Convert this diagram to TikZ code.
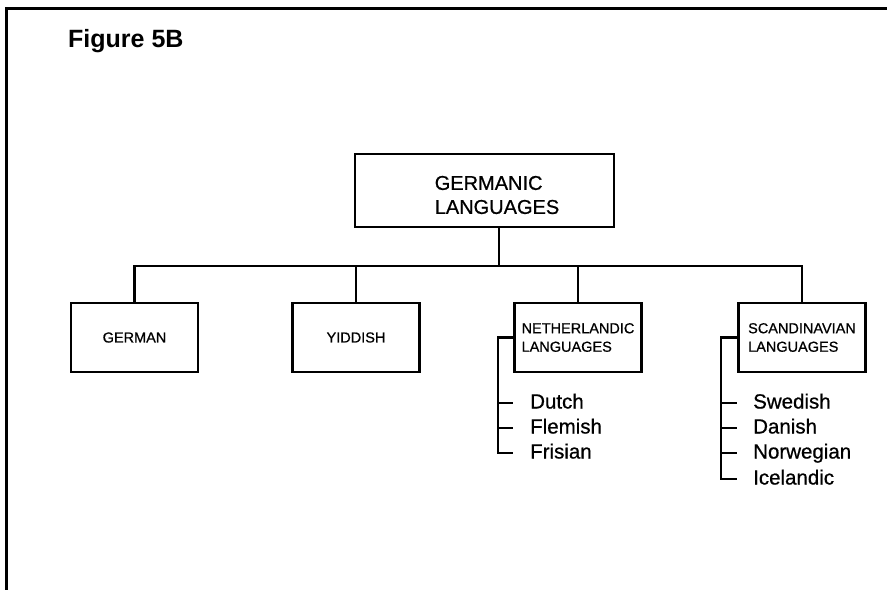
\documentclass[tikz,border=0pt]{standalone}
\usepackage{fontspec}
\setmainfont{Liberation Sans}
% a slightly heavier upright for the chart lettering
\newfontfamily\chartfont[FakeBold=0.7]{Liberation Sans}
\begin{document}
\begin{tikzpicture}[x=1pt,y=-1pt,
  frame/.style={line width=3pt,line join=miter},
  box/.style={draw,line width=2.6pt,rectangle,inner sep=0pt},
  childbox/.style={box,minimum width=127pt,minimum height=69pt,
    font=\chartfont\fontsize{14.5}{18.5}\selectfont,align=left},
  link/.style={line width=2.2pt},
  item/.style={anchor=west,inner sep=0pt,text height=15pt,text depth=4pt,
    font=\chartfont\fontsize{20.5}{24}\selectfont}]
  \useasboundingbox (0,0) rectangle (887,590);

  % page frame (top and left edges)
  \draw[frame] (887,8) -- (6,8) -- (6,590);

  % heading
  \node[anchor=base west,inner sep=0pt,font=\fontsize{25}{30}\selectfont\bfseries]
    (title) at (68,47) {Figure 5B};

  % root
  \node[box,minimum width=259pt,minimum height=73pt] (germ) at (484.5,190.5) {};
  \node[align=left,inner sep=0pt,font=\chartfont\fontsize{20}{24}\selectfont]
    (germtxt) at (497,195) {GERMANIC\\LANGUAGES};

  % branches
  \node[childbox] (german) at (134.5,337.5) {GERMAN};
  \node[childbox] (yid)    at (356,337.5)   {YIDDISH};
  \node[childbox] (neth)   at (578,337.5)   {NETHERLANDIC\\LANGUAGES};
  \node[childbox] (scan)   at (802,337.5)   {SCANDINAVIAN\\LANGUAGES};

  % tree connectors
  \coordinate (bus) at (499,266);
  \draw[link] (germ.south -| bus) -- (bus);
  \draw[link] (german.north) -- (german.north |- bus) -- (scan.north |- bus) -- (scan.north);
  \draw[link] (yid.north) -- (yid.north |- bus);
  \draw[link] (neth.north) -- (neth.north |- bus);

  % Netherlandic languages
  \node[item] (dutch)   at (530,403) {Dutch};
  \node[item] (flemish) at (530,428) {Flemish};
  \node[item] (frisian) at (530,453) {Frisian};
  \draw[link] (neth.west) -- ++(-15,0) coordinate (nbar)
    |- ([xshift=-17pt]frisian.west);
  \draw[link] (nbar |- dutch.west) -- ([xshift=-17pt]dutch.west);
  \draw[link] (nbar |- flemish.west) -- ([xshift=-17pt]flemish.west);

  % Scandinavian languages
  \node[item] (swedish)   at (753,403) {Swedish};
  \node[item] (danish)    at (753,428) {Danish};
  \node[item] (norwegian) at (753,453) {Norwegian};
  \node[item] (icelandic) at (753,479) {Icelandic};
  \draw[link] (scan.west) -- ++(-16,0) coordinate (sbar)
    |- ([xshift=-16pt]icelandic.west);
  \draw[link] (sbar |- swedish.west) -- ([xshift=-16pt]swedish.west);
  \draw[link] (sbar |- danish.west) -- ([xshift=-16pt]danish.west);
  \draw[link] (sbar |- norwegian.west) -- ([xshift=-16pt]norwegian.west);
\end{tikzpicture}
\end{document}
